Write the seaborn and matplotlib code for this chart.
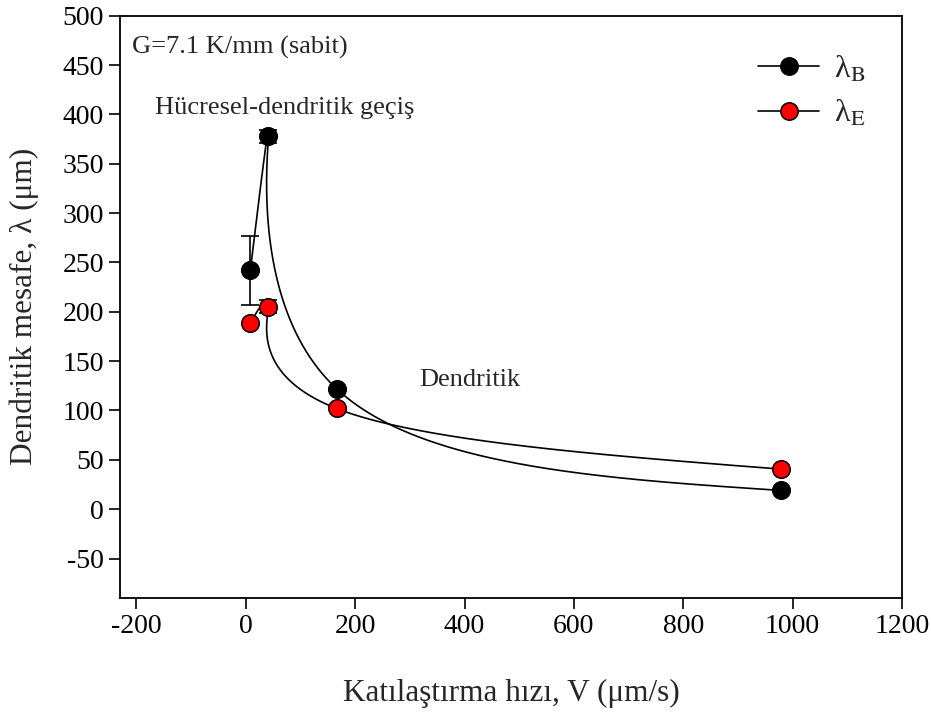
import numpy as np
import pandas as pd
import matplotlib
matplotlib.use('Agg')
import matplotlib.pyplot as plt
from matplotlib.lines import Line2D
import seaborn as sns

# katılaştırma hızı (um/s) ve dendritik mesafeler (um)
V = [8.3, 41.5, 166, 978]
lam_B = [242, 378, 122, 19]
lam_E = [189, 205, 102, 40.6]
err_B = [35, 6.5, 0, 0]
err_E = [0, 6.5, 0, 0]

x_ticks = [-200, 0, 200, 400, 600, 800, 1000, 1200]
y_ticks = [-50, 0, 50, 100, 150, 200, 250, 300, 350, 400, 450, 500]


def spline(p, n=200):
    # parametrik dogal kubik spline (uniform parametre)
    p = np.asarray(p, float)
    k = len(p)
    A = np.zeros((k, k))
    r = np.zeros(k)
    A[0, 0] = A[-1, -1] = 1
    for i in range(1, k - 1):
        A[i, i - 1:i + 2] = [1, 4, 1]
        r[i] = 6 * (p[i - 1] - 2 * p[i] + p[i + 1])
    M = np.linalg.solve(A, r)
    s = np.linspace(0, 1, n)
    out = []
    for i in range(k - 1):
        a, b = 1 - s, s
        seg = a * p[i] + b * p[i + 1] + ((a**3 - a) * M[i] + (b**3 - b) * M[i + 1]) / 6
        out.append(seg if i == 0 else seg[1:])
    return np.concatenate(out)


sns.set_style('ticks')
plt.rcParams['font.family'] = ['Liberation Serif', 'DejaVu Serif']
plt.rcParams['mathtext.fontset'] = 'stix'
plt.rcParams['axes.unicode_minus'] = False

fig = plt.figure(figsize=(9.31, 7.13), dpi=100)
ax = fig.add_axes([0.1289, 0.1613, 0.84, 0.8167])

for lam, err, col, z in [(lam_B, err_B, 'black', 3), (lam_E, err_E, 'red', 4)]:
    curve = pd.DataFrame({'V': spline(V), 'lam': spline(lam)})
    sns.lineplot(data=curve, x='V', y='lam', sort=False, estimator=None,
                 color='black', lw=1.2, ax=ax, zorder=2)
    ax.errorbar(V, lam, yerr=err, fmt='none', ecolor='black', elinewidth=1.2,
                capsize=6.5, capthick=1.2, zorder=z)
    pts = pd.DataFrame({'V': V, 'lam': lam})
    sns.scatterplot(data=pts, x='V', y='lam', color=col, edgecolor='black',
                    linewidth=1.1, s=160, ax=ax, zorder=z + 0.5)

ax.set_xlim(-230, 1200)
ax.set_ylim(-90, 500)
ax.set_xticks(x_ticks)
ax.set_yticks(y_ticks)
ax.tick_params(direction='out', length=8, width=1.2, labelsize=20, colors='black')
for sp in ax.spines.values():
    sp.set_linewidth(1.3)
    sp.set_color('black')

ax.set_xlabel('Katılaştırma hızı, V (μm/s)', fontsize=22.5, labelpad=29)
ax.set_ylabel('Dendritik mesafe, λ (μm)', fontsize=22.5, labelpad=17)

ax.text(0.015, 0.965, 'G=7.1 K/mm (sabit)', transform=ax.transAxes,
        fontsize=19, va='top', ha='left')
ax.text(71, 406, 'Hücresel-dendritik geçiş', fontsize=19, ha='center', va='center')
ax.text(410, 131, 'Dendritik', fontsize=19, ha='center', va='center')

handles = [Line2D([], [], color='black', lw=1.2, marker='o', markersize=12.5,
                  markerfacecolor=c, markeredgecolor='black', markeredgewidth=1.1)
           for c in ['black', 'red']]
ax.legend(handles, [r'λ$_{\mathrm{B}}$', r'λ$_{\mathrm{E}}$'],
          loc='upper left', bbox_to_anchor=(0.816, 0.934), frameon=False,
          borderpad=0, borderaxespad=0, fontsize=23, handlelength=1.92,
          labelspacing=0.45, handletextpad=0.45)

fig.savefig('out.png', dpi=100)
